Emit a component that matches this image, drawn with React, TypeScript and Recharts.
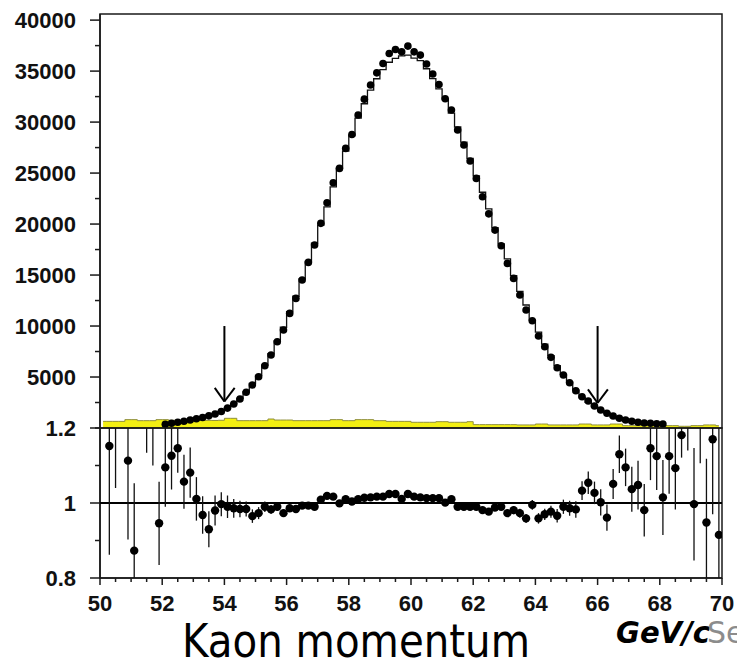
import React from 'react';
import {
  ComposedChart, Line, Area, Scatter, XAxis, YAxis, ErrorBar,
  ReferenceLine, ReferenceArea,
} from 'recharts';

// histogram bins are 0.2 GeV/c wide
const BW = 0.2;

// K momentum spectrum, data points, bins centred 52.1 .. 68.1
const DATA_START = 52.1;
const dataCounts = [
  370, 460, 560, 660, 780, 900, 1030, 1190, 1380, 1620,
  1950, 2350, 2850, 3500, 4220, 5030, 6110, 7160, 8460, 9610,
  11240, 12710, 14510, 16240, 17940, 20070, 22090, 24050, 25460, 27420,
  28790, 30690, 32250, 33630, 34830, 35750, 36730, 37120, 36890, 37450,
  36890, 36570, 35690, 34710, 33690, 32290, 31180, 29220, 27750, 26180,
  24480, 22680, 21000, 19410, 17870, 16140, 14670, 13040, 11570, 10520,
  9020, 7970, 6930, 5910, 5200, 4440, 3660, 3070, 2650, 2160,
  1760, 1440, 1180, 950, 780, 660, 560, 490, 460, 420,
  390,
];
// MC histogram, same bins
const mcCounts = [
  340, 410, 490, 620, 720, 890, 1060, 1280, 1410, 1620,
  1970, 2380, 2900, 3560, 4370, 5170, 6170, 7280, 8550, 9880,
  11400, 12920, 14610, 16350, 18120, 19890, 21680, 23650, 25490, 27150,
  28680, 30390, 31800, 33130, 34250, 35150, 35870, 36250, 36490, 36570,
  36270, 36030, 35230, 34270, 33260, 32260, 30870, 29520, 28030, 26440,
  24730, 23120, 21490, 19650, 18050, 16590, 14950, 13400, 12060, 10570,
  9410, 8220, 7090, 6120, 5250, 4500, 3720, 2970, 2510, 2100,
  1760, 1500, 1120, 840, 710, 640, 530, 500, 400, 370,
  380,
];

// background (yellow), bins centred 50.1 .. 69.9
const FULL_START = 50.1;
const bgCounts = [
  650, 650, 650, 650, 820, 820, 720, 720, 720, 820,
  820, 760, 740, 760, 750, 740, 760, 750, 740, 760,
  950, 950, 720, 720, 720, 720, 720, 880, 780, 780,
  780, 720, 720, 720, 720, 720, 720, 820, 820, 720,
  720, 820, 820, 820, 720, 720, 650, 650, 650, 650,
  560, 560, 560, 560, 620, 620, 560, 560, 560, 620,
  330, 330, 330, 330, 330, 330, 330, 300, 300, 300,
  390, 390, 300, 300, 300, 300, 300, 390, 390, 300,
  300, 300, 390, 390, 230, 230, 230, 230, 230, 230,
  230, 230, 230, 170, 170, 230, 230, 300, 300, 230,
];

// data / MC ratio and its error, bins 50.1 .. 69.9 (null = empty bin)
const ratio = [
  null, 1.152, 1.25, null, 1.113, 0.873, null, 1.3, 1.26, 0.946,
  1.095, 1.126, 1.146, 1.057, 1.081, 1.011, 0.968, 0.93, 0.98, 0.997,
  0.99, 0.986, 0.984, 0.984, 0.965, 0.973, 0.99, 0.983, 0.99, 0.973,
  0.986, 0.984, 0.993, 0.993, 0.99, 1.009, 1.019, 1.017, 0.999, 1.01,
  1.004, 1.01, 1.014, 1.015, 1.017, 1.017, 1.024, 1.024, 1.011, 1.024,
  1.017, 1.015, 1.013, 1.013, 1.013, 1.001, 1.01, 0.99, 0.99, 0.99,
  0.99, 0.981, 0.977, 0.988, 0.99, 0.973, 0.981, 0.973, 0.959, 0.995,
  0.959, 0.97, 0.977, 0.966, 0.99, 0.986, 0.983, 1.033, 1.054, 1.027,
  1.002, 0.961, 1.051, 1.13, 1.095, 1.037, 1.048, 0.981, 1.146, 1.125,
  1.015, 1.125, 1.093, 1.181, 1.26, 0.997, 1.25, 0.948, 1.17, 0.915,
];
const ratioErr = [
  0, 0.29, 0.21, 0, 0.21, 0.18, 0, 0.166, 0.16, 0.111,
  0.105, 0.09, 0.065, 0.072, 0.067, 0.058, 0.05, 0.048, 0.04, 0.032,
  0.03, 0.025, 0.022, 0.02, 0.018, 0.016, 0.014, 0.012, 0.011, 0.01,
  0.009, 0.008, 0.008, 0.007, 0.007, 0.007, 0.006, 0.006, 0.006, 0.006,
  0.006, 0.006, 0.006, 0.006, 0.006, 0.006, 0.006, 0.006, 0.006, 0.006,
  0.006, 0.006, 0.006, 0.006, 0.006, 0.006, 0.007, 0.007, 0.007, 0.008,
  0.008, 0.008, 0.009, 0.009, 0.01, 0.01, 0.011, 0.012, 0.012, 0.013,
  0.014, 0.015, 0.016, 0.018, 0.019, 0.02, 0.022, 0.025, 0.03, 0.03,
  0.035, 0.035, 0.04, 0.05, 0.05, 0.06, 0.065, 0.07, 0.085, 0.09,
  0.1, 0.1, 0.11, 0.06, 0.12, 0.15, 0.144, 0.17, 0.2, 0.3,
];

// momentum cut arrows
const arrows = [
  { x: 54, top: 10000, tip: 2600 },
  { x: 66, top: 10000, tip: 2450 },
];

const topTicks = [0, 2500, 5000, 7500, 10000, 12500, 15000, 17500, 20000,
  22500, 25000, 27500, 30000, 32500, 35000, 37500, 40000];
const topLabels = [5000, 10000, 15000, 20000, 25000, 30000, 35000, 40000];
const ratioTicks = [0.8, 0.9, 1, 1.1, 1.2];
const ratioLabels = [0.8, 1, 1.2];
const xLabels = [50, 52, 54, 56, 58, 60, 62, 64, 66, 68, 70];
const xMinor = Array.from({ length: 41 }, (_, i) => 50 + i * 0.5);

const binX = (start: number, i: number) => Number((start + i * BW).toFixed(1));

const mainRows = dataCounts.map((v, i) => ({ x: binX(DATA_START, i), data: v, mc: mcCounts[i] }));
const bgRows = bgCounts.map((v, i) => ({ x: binX(FULL_START, i), bg: v }));
const ratioRows = ratio
  .map((r, i) => ({ x: binX(FULL_START, i), r, err: ratioErr[i] }))
  .filter((d) => d.r !== null);

const AX = '#1a1a1a';
const FONT = '"Liberation Sans", Arial, Helvetica, sans-serif';

function YTick({ x, y, payload, labels }: any) {
  const v = payload.value;
  const major = labels.includes(v);
  return (
    <g>
      <line x1={x - (major ? 10 : 5)} x2={x} y1={y} y2={y} stroke={AX} strokeWidth={1.5} />
      {major && (
        <text x={x - 24} y={y + 8} textAnchor="end" fontFamily={FONT} fontWeight={700}
          fontSize={22} fill="#111">{String(v)}</text>
      )}
    </g>
  );
}

function XTick({ x, y, payload }: any) {
  const v = payload.value;
  const major = xLabels.includes(v);
  return (
    <g>
      <line x1={x} x2={x} y1={y} y2={y + (major ? 7 : 4)} stroke={AX} strokeWidth={1.5} />
      {major && (
        <text x={x} y={y + 33} textAnchor="middle" fontFamily={FONT} fontWeight={700}
          fontSize={22} fill="#111">{String(v)}</text>
      )}
    </g>
  );
}

function TopTick({ x, y, payload }: any) {
  if (!xLabels.includes(payload.value)) return <g />;
  return <line x1={x} x2={x} y1={y} y2={y + 5} stroke={AX} strokeWidth={1.3} />;
}

const dot = (r: number) => (p: any) => <circle cx={p.cx} cy={p.cy} r={r} fill="#000" />;

// ratio panel: plot area is 100..722 x 428..578 on the page
const RATIO_TOP = 410;

export default function App() {
  return (
    <div style={{ position: 'absolute', left: 0, top: 0, width: 737, height: 668, background: '#fff' }}>
      <div style={{ position: 'absolute', left: 0, top: 0 }}>
        <ComposedChart width={737} height={430} margin={{ top: 14, right: 15, left: 0, bottom: 2 }}>
          <XAxis type="number" dataKey="x" domain={[50, 70]} allowDataOverflow hide />
          <YAxis type="number" domain={[0, 40600]} allowDataOverflow width={100}
            ticks={topTicks} interval={0} tickSize={0} tickMargin={0}
            axisLine={{ stroke: AX, strokeWidth: 1.5 }} tickLine={false}
            tick={(p: any) => <YTick {...p} labels={topLabels} />} />
          <Area data={bgRows} dataKey="bg" type="step" fill="#f3ef12" fillOpacity={1}
            stroke="#8f8f3c" strokeWidth={1} isAnimationActive={false} />
          <Line data={mainRows} dataKey="mc" type="step" stroke="#111" strokeWidth={1.3}
            dot={false} isAnimationActive={false} />
          <Scatter data={mainRows} dataKey="data" shape={dot(3.8)} isAnimationActive={false} />
          {arrows.map((a) => (
            <React.Fragment key={a.x}>
              <ReferenceLine segment={[{ x: a.x, y: a.top }, { x: a.x, y: a.tip }]} stroke="#000" strokeWidth={2} />
              <ReferenceLine segment={[{ x: a.x - 0.31, y: a.tip + 1340 }, { x: a.x, y: a.tip }]} stroke="#000" strokeWidth={2} />
              <ReferenceLine segment={[{ x: a.x + 0.33, y: a.tip + 1340 }, { x: a.x, y: a.tip }]} stroke="#000" strokeWidth={2} />
            </React.Fragment>
          ))}
          <ReferenceArea x1={50} x2={70} y1={0} y2={40600} fill="none" stroke={AX} strokeWidth={1.5} />
        </ComposedChart>
      </div>

      {/* ratio panel: axes and frame */}
      <div style={{ position: 'absolute', left: 0, top: RATIO_TOP }}>
        <ComposedChart width={737} height={258} margin={{ top: 18, right: 15, left: 0, bottom: 50 }}>
          <XAxis type="number" dataKey="x" domain={[50, 70]} allowDataOverflow height={40}
            ticks={xMinor} interval={0} tickSize={0} tickMargin={0} tickLine={false}
            axisLine={{ stroke: AX, strokeWidth: 1.5 }} tick={(p: any) => <XTick {...p} />} />
          <XAxis xAxisId="top" orientation="top" type="number" domain={[50, 70]} allowDataOverflow
            height={0} ticks={xLabels} interval={0} tickSize={0} tickMargin={0} tickLine={false}
            axisLine={{ stroke: AX, strokeWidth: 1.5 }} tick={(p: any) => <TopTick {...p} />} />
          <YAxis type="number" domain={[0.8, 1.2]} allowDataOverflow width={100}
            ticks={ratioTicks} interval={0} tickSize={0} tickMargin={0} tickLine={false}
            axisLine={{ stroke: AX, strokeWidth: 1.5 }}
            tick={(p: any) => <YTick {...p} labels={ratioLabels} />} />
          <ReferenceArea x1={50} x2={70} y1={0.8} y2={1.2} fill="none" stroke={AX} strokeWidth={1.5} />
        </ComposedChart>
      </div>

      {/* ratio panel: points and error bars, clipped to the plot area */}
      <div style={{ position: 'absolute', left: 100, top: 428, width: 622, height: 150, overflow: 'hidden' }}>
        <div style={{ position: 'absolute', left: -100, top: RATIO_TOP - 428 }}>
          <ComposedChart width={737} height={258} margin={{ top: 18, right: 15, left: 100, bottom: 90 }}>
            <XAxis type="number" dataKey="x" domain={[50, 70]} allowDataOverflow hide />
            <YAxis type="number" domain={[0.8, 1.2]} allowDataOverflow hide />
            <ReferenceLine y={1} stroke="#000" strokeWidth={2} />
            <Scatter data={ratioRows} dataKey="r" shape={dot(4.2)} isAnimationActive={false}>
              <ErrorBar dataKey="err" direction="y" width={0} stroke="#111" strokeWidth={1.3} />
            </Scatter>
          </ComposedChart>
        </div>
      </div>

      <svg width={737} height={668} style={{ position: 'absolute', left: 0, top: 0, pointerEvents: 'none' }}>
        <text x={182} y={657} fontFamily='"DejaVu Sans", sans-serif' fontSize={46} fill="#000"
          textLength={348} lengthAdjust="spacingAndGlyphs">Kaon momentum</text>
        <text x={616} y={643} fontFamily='"DejaVu Sans", sans-serif' fontSize={30} fontWeight={700}
          fontStyle="italic" fill="#000" textLength={94} lengthAdjust="spacingAndGlyphs">GeV/c</text>
        <text x={707} y={643} fontFamily='"DejaVu Sans", sans-serif' fontSize={30} fill="#8c8c8c">Se</text>
      </svg>
    </div>
  );
}
